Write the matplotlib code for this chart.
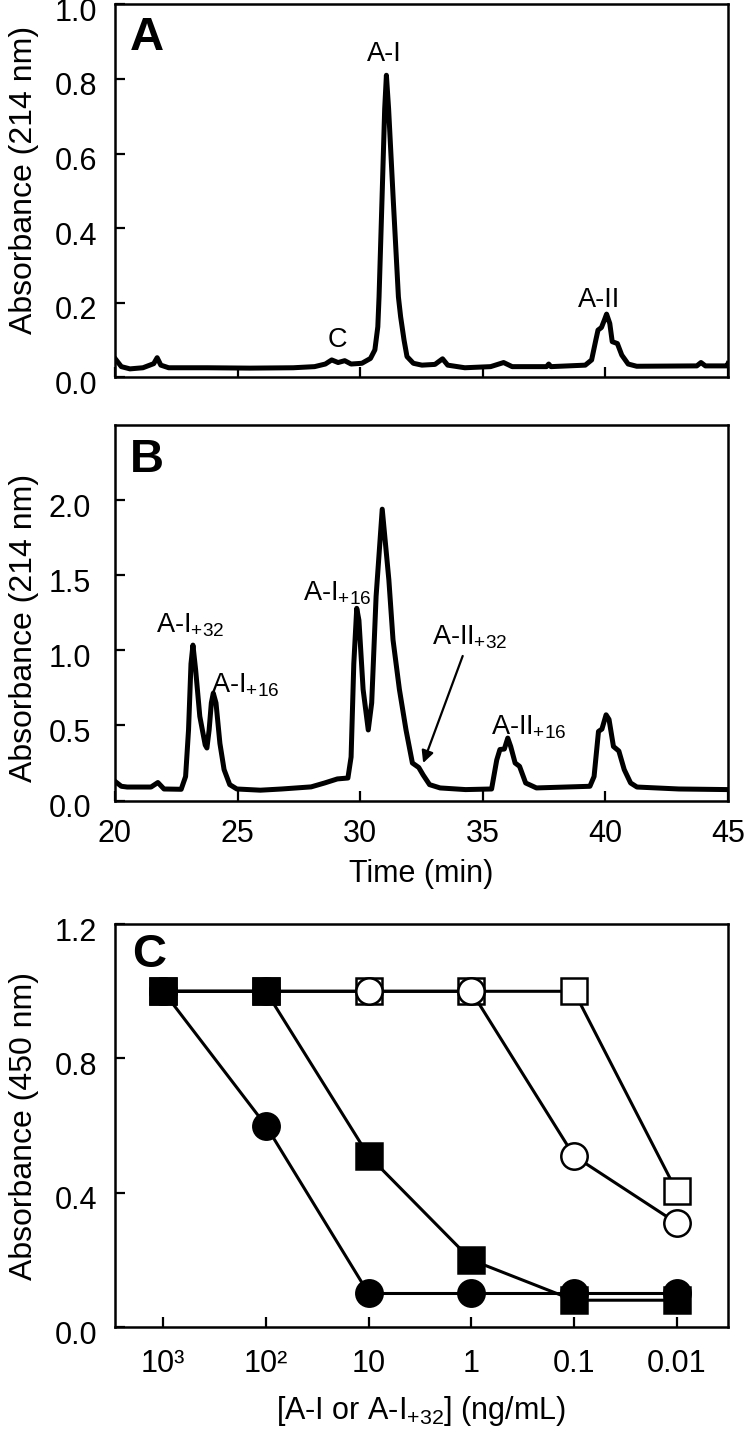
import matplotlib
matplotlib.use("Agg")
import matplotlib.pyplot as plt
import matplotlib.transforms as mtransforms

plt.rcParams['font.family'] = ['Liberation Sans', 'DejaVu Sans']
plt.rcParams['mathtext.fontset'] = 'custom'
plt.rcParams['mathtext.rm'] = 'Liberation Sans'
plt.rcParams['mathtext.it'] = 'Liberation Sans:italic'
plt.rcParams['mathtext.bf'] = 'Liberation Sans:bold'

# panel A trace (time in min, absorbance at 214 nm)
time_a = [20.0, 20.26, 20.61, 21.14, 21.58, 21.72, 21.87, 22.19, 23.77, 25.5,
          27.27, 28.14, 28.58, 28.84, 29.1, 29.37, 29.63, 30.07, 30.42, 30.6,
          30.72, 30.77, 30.89, 31.0, 31.07, 31.16, 31.35, 31.56, 31.65, 31.79,
          31.91, 32.17, 32.52, 33.05, 33.36, 33.57, 34.27, 35.32, 35.85, 36.2,
          37.6, 37.69, 37.78, 39.18, 39.44, 39.61, 39.7, 39.84, 39.96, 40.05,
          40.18, 40.28, 40.49, 40.67, 40.93, 41.28, 43.73, 43.9, 44.08, 44.96, 45.0]
abs_a = [0.050, 0.028, 0.022, 0.025, 0.036, 0.052, 0.032, 0.025, 0.025, 0.024,
         0.025, 0.028, 0.035, 0.046, 0.039, 0.044, 0.035, 0.037, 0.050, 0.073,
         0.135, 0.215, 0.475, 0.72, 0.81, 0.72, 0.475, 0.215, 0.162, 0.099,
         0.055, 0.037, 0.032, 0.034, 0.049, 0.032, 0.025, 0.028, 0.039, 0.028,
         0.028, 0.035, 0.028, 0.032, 0.046, 0.099, 0.126, 0.133, 0.153, 0.169,
         0.144, 0.095, 0.090, 0.059, 0.035, 0.029, 0.030, 0.039, 0.030, 0.030, 0.036]

# panel B trace
time_b = [20.0, 20.26, 20.5, 21.47, 21.75, 22.0, 22.7, 22.88, 23.0, 23.1,
          23.18, 23.29, 23.46, 23.68, 23.75, 23.84, 23.93, 24.01, 24.12, 24.28,
          24.45, 24.68, 24.97, 25.93, 26.8, 28.0, 28.55, 29.07, 29.5, 29.63,
          29.74, 29.86, 29.95, 30.12, 30.33, 30.47, 30.65, 30.9, 31.17, 31.34,
          31.6, 31.87, 32.13, 32.39, 32.57, 32.83, 33.26, 34.3, 35.36, 35.57,
          35.7, 35.88, 36.02, 36.14, 36.32, 36.5, 36.75, 37.19, 39.37, 39.54,
          39.72, 39.86, 40.03, 40.15, 40.33, 40.55, 40.77, 41.03, 41.29, 43.0, 45.0]
abs_b = [0.128, 0.095, 0.090, 0.090, 0.120, 0.077, 0.075, 0.160, 0.470, 0.910,
         1.035, 0.870, 0.560, 0.370, 0.350, 0.470, 0.650, 0.715, 0.650, 0.380,
         0.206, 0.106, 0.077, 0.069, 0.077, 0.091, 0.117, 0.144, 0.150, 0.290,
         0.910, 1.280, 1.200, 0.740, 0.470, 0.650, 1.360, 1.940, 1.470, 1.070,
         0.740, 0.470, 0.250, 0.220, 0.170, 0.106, 0.084, 0.073, 0.077, 0.270,
         0.340, 0.343, 0.416, 0.360, 0.250, 0.228, 0.117, 0.084, 0.095, 0.160,
         0.460, 0.476, 0.571, 0.540, 0.360, 0.330, 0.206, 0.117, 0.090, 0.077, 0.073]

# panel C
conc_labels = ['10³', '10²', '10', '1', '0.1', '0.01']
filled_circle = [1.0, 0.6, 0.1, 0.1, 0.1, 0.1]
filled_square = [1.0, 1.0, 0.51, 0.2, 0.08, 0.08]
open_circle = [1.0, 1.0, 1.0, 1.0, 0.51, 0.31]
open_square = [1.0, 1.0, 1.0, 1.0, 1.0, 0.405]

fig = plt.figure(figsize=(7.5, 14.37), dpi=100)
axA = fig.add_axes([0.1533, 0.7376, 0.8173, 0.2593])
axB = fig.add_axes([0.1533, 0.4429, 0.8173, 0.2613])
axC = fig.add_axes([0.1533, 0.0765, 0.8173, 0.2804])

# y tick labels sit a few pixels below their ticks in the original
shift = mtransforms.ScaledTranslation(0, -5 / 100, fig.dpi_scale_trans)

for ax in (axA, axB, axC):
    for s in ax.spines.values():
        s.set_linewidth(1.8)
    ax.tick_params(direction='in', length=7, width=1.6, labelsize=22,
                   top=False, right=False)

ann = 19.5
sub = r'$_{\mathregular{+%s}}$'

# ---- A
axA.plot(time_a, abs_a, color='black', lw=3.6, solid_joinstyle='round')
axA.set_xlim(20, 45)
axA.set_ylim(0, 1.0)
axA.set_xticks([20, 25, 30, 35, 40, 45])
axA.set_xticklabels([])
axA.set_yticks([0, 0.2, 0.4, 0.6, 0.8, 1.0])
axA.set_yticklabels(['0.0', '0.2', '0.4', '0.6', '0.8', '1.0'])
axA.tick_params(axis='y', pad=13)
axA.set_ylabel('Absorbance (214 nm)', fontsize=23)
axA.yaxis.set_label_coords(-0.124, 0.53)
axA.text(0.052, 0.91, 'A', transform=axA.transAxes, fontsize=34,
         fontweight='bold', ha='center', va='center')
axA.text(31.0, 0.868, 'A-I', fontsize=ann, ha='center', va='center')
axA.text(29.07, 0.10, 'C', fontsize=ann, ha='center', va='center')
axA.text(39.75, 0.207, 'A-II', fontsize=ann, ha='center', va='center')

# ---- B
axB.plot(time_b, abs_b, color='black', lw=3.6, solid_joinstyle='round')
axB.set_xlim(20, 45)
axB.set_ylim(0, 2.5)
axB.set_xticks([20, 25, 30, 35, 40, 45])
axB.set_yticks([0, 0.5, 1.0, 1.5, 2.0])
axB.set_yticklabels(['0.0', '0.5', '1.0', '1.5', '2.0'])
axB.tick_params(axis='y', pad=17)
axB.tick_params(axis='x', pad=13)
axB.set_ylabel('Absorbance (214 nm)', fontsize=23)
axB.yaxis.set_label_coords(-0.124, 0.46)
axB.set_xlabel('Time (min)', fontsize=22)
axB.xaxis.set_label_coords(0.5, -0.155)
axB.text(0.052, 0.907, 'B', transform=axB.transAxes, fontsize=34,
         fontweight='bold', ha='center', va='center')
axB.text(23.05, 1.17, 'A-I' + sub % '32', fontsize=ann, ha='center', va='center')
axB.text(25.3, 0.77, 'A-I' + sub % '16', fontsize=ann, ha='center', va='center')
axB.text(29.07, 1.38, 'A-I' + sub % '16', fontsize=ann, ha='center', va='center')
axB.text(36.86, 0.49, 'A-II' + sub % '16', fontsize=ann, ha='center', va='center')
axB.annotate('A-II' + sub % '32', xy=(32.57, 0.25), xytext=(34.47, 1.09),
             fontsize=ann, ha='center', va='center',
             arrowprops=dict(arrowstyle='-|>', color='black', lw=1.6,
                             mutation_scale=18, shrinkA=2, shrinkB=0))

# ---- C
xpos = list(range(len(conc_labels)))
axC.plot(xpos, open_square, color='black', lw=2.2, marker='s', ms=19,
         mfc='white', mec='black', mew=1.8, zorder=2)
axC.plot(xpos, open_circle, color='black', lw=2.2, marker='o', ms=19,
         mfc='white', mec='black', mew=1.8, zorder=3)
axC.plot(xpos, filled_circle, color='black', lw=2.2, marker='o', ms=19,
         mfc='black', mec='black', mew=1.8, zorder=4)
axC.plot(xpos, filled_square, color='black', lw=2.2, marker='s', ms=19,
         mfc='black', mec='black', mew=1.8, zorder=5)
axC.set_xlim(-0.47, 5.5)
axC.set_ylim(0, 1.2)
axC.set_xticks(xpos)
axC.set_xticklabels(conc_labels)
axC.set_yticks([0, 0.4, 0.8, 1.2])
axC.set_yticklabels(['0.0', '0.4', '0.8', '1.2'])
axC.tick_params(axis='y', pad=13)
axC.tick_params(axis='x', pad=16)
axC.set_ylabel('Absorbance (450 nm)', fontsize=23)
axC.yaxis.set_label_coords(-0.124, 0.5)
axC.set_xlabel(r'[A-I or A-I$_{\mathregular{+32}}$] (ng/mL)', fontsize=22)
axC.xaxis.set_label_coords(0.5, -0.165)
axC.text(0.055, 0.923, 'C', transform=axC.transAxes, fontsize=34,
         fontweight='bold', ha='center', va='center')

for ax in (axA, axB, axC):
    for lbl in ax.get_yticklabels():
        lbl.set_transform(lbl.get_transform() + shift)

fig.savefig('out.png', dpi=100)
